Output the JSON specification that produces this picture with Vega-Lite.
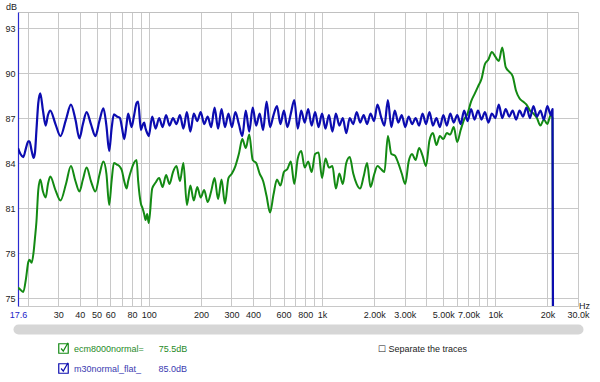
{
  "$schema": "https://vega.github.io/schema/vega-lite/v6.json",
  "width": 560,
  "height": 294,
  "autosize": {"type": "none"},
  "padding": {"left": 18, "top": 12, "right": 22, "bottom": 76},
  "background": "white",
  "config": {"font": "Liberation Sans", "view": {"stroke": null}},
  "title": {"text": "☐ Separate the traces", "orient": "bottom", "anchor": "start", "frame": "group", "offset": 10, "dx": 360, "dy": -41, "fontSize": 9, "fontWeight": "normal", "font": "Liberation Sans", "color": "#222222", "baseline": "top"},
  "data": {"values": [
    {"hz":17.6,"ecm":75.7,"m30":85.0},
    {"hz":18.19,"ecm":75.55,"m30":84.6},
    {"hz":18.88,"ecm":75.4,"m30":84.4},
    {"hz":19.57,"ecm":76.3,"m30":85.0},
    {"hz":20.18,"ecm":77.4,"m30":85.45},
    {"hz":20.5,"ecm":77.55,"m30":85.45},
    {"hz":21.11,"ecm":77.35,"m30":84.8},
    {"hz":21.67,"ecm":78.1,"m30":84.35},
    {"hz":22.05,"ecm":79.0,"m30":84.7},
    {"hz":22.49,"ecm":80.1,"m30":86.2},
    {"hz":23.04,"ecm":82.2,"m30":88.0},
    {"hz":23.66,"ecm":82.9,"m30":88.65},
    {"hz":24.52,"ecm":82.1,"m30":87.5},
    {"hz":25.42,"ecm":81.7,"m30":86.5},
    {"hz":26.21,"ecm":82.6,"m30":87.2},
    {"hz":27.02,"ecm":83.1,"m30":87.5},
    {"hz":28.95,"ecm":82.2,"m30":86.6},
    {"hz":30.94,"ecm":81.5,"m30":85.8},
    {"hz":33.29,"ecm":82.6,"m30":86.9},
    {"hz":35.56,"ecm":83.8,"m30":87.9},
    {"hz":37.75,"ecm":82.8,"m30":86.9},
    {"hz":39.81,"ecm":82.1,"m30":85.65},
    {"hz":41.7,"ecm":82.9,"m30":86.6},
    {"hz":43.8,"ecm":83.7,"m30":87.4},
    {"hz":46.38,"ecm":82.8,"m30":86.6},
    {"hz":49.23,"ecm":82.1,"m30":85.8},
    {"hz":51.91,"ecm":83.2,"m30":86.8},
    {"hz":54.74,"ecm":84.1,"m30":87.65},
    {"hz":56.97,"ecm":83.3,"m30":86.5},
    {"hz":59.12,"ecm":81.2,"m30":84.8},
    {"hz":61.04,"ecm":82.8,"m30":86.3},
    {"hz":62.93,"ecm":84.0,"m30":87.25},
    {"hz":65.49,"ecm":83.9,"m30":87.1},
    {"hz":68.15,"ecm":83.75,"m30":87.0},
    {"hz":69.98,"ecm":83.5,"m30":86.4},
    {"hz":72.16,"ecm":82.8,"m30":85.6},
    {"hz":74.5,"ecm":82.3,"m30":86.6},
    {"hz":76.1,"ecm":82.8,"m30":87.3},
    {"hz":79.61,"ecm":83.6,"m30":86.4},
    {"hz":82.08,"ecm":84.0,"m30":87.1},
    {"hz":85.07,"ecm":84.2,"m30":88.0},
    {"hz":86.89,"ecm":82.8,"m30":88.1},
    {"hz":90.06,"ecm":81.3,"m30":86.2},
    {"hz":92.0,"ecm":81.0,"m30":86.5},
    {"hz":94.09,"ecm":80.6,"m30":86.7},
    {"hz":95.86,"ecm":80.2,"m30":86.3},
    {"hz":97.92,"ecm":80.6,"m30":86.0},
    {"hz":100,"ecm":80.0,"m30":85.8},
    {"hz":104.7,"ecm":82.3,"m30":87.1},
    {"hz":109.6,"ecm":82.7,"m30":86.3},
    {"hz":114.8,"ecm":83.0,"m30":87.0},
    {"hz":120.2,"ecm":82.4,"m30":86.4},
    {"hz":125.9,"ecm":83.2,"m30":87.2},
    {"hz":131.8,"ecm":82.6,"m30":86.5},
    {"hz":138.0,"ecm":83.4,"m30":87.0},
    {"hz":144.5,"ecm":83.8,"m30":86.6},
    {"hz":151.4,"ecm":82.8,"m30":87.2},
    {"hz":158.5,"ecm":84.0,"m30":86.3},
    {"hz":166.0,"ecm":81.2,"m30":87.4},
    {"hz":173.8,"ecm":82.5,"m30":86.1},
    {"hz":182.0,"ecm":81.5,"m30":87.3},
    {"hz":190.5,"ecm":82.4,"m30":86.8},
    {"hz":199.5,"ecm":81.7,"m30":87.4},
    {"hz":208.9,"ecm":82.2,"m30":86.6},
    {"hz":218.8,"ecm":81.4,"m30":87.1},
    {"hz":229.1,"ecm":82.1,"m30":86.4},
    {"hz":239.9,"ecm":83.0,"m30":87.7},
    {"hz":251.2,"ecm":81.6,"m30":86.3},
    {"hz":263.0,"ecm":82.9,"m30":87.6},
    {"hz":275.4,"ecm":81.3,"m30":86.4},
    {"hz":288.4,"ecm":83.0,"m30":87.3},
    {"hz":302.0,"ecm":83.3,"m30":86.4},
    {"hz":316.2,"ecm":83.8,"m30":87.4},
    {"hz":331.1,"ecm":84.6,"m30":86.6},
    {"hz":346.7,"ecm":85.6,"m30":85.8},
    {"hz":363.1,"ecm":85.0,"m30":87.5},
    {"hz":380.2,"ecm":85.9,"m30":86.1},
    {"hz":398.1,"ecm":84.2,"m30":87.7},
    {"hz":416.9,"ecm":84.0,"m30":86.5},
    {"hz":436.5,"ecm":83.3,"m30":87.3},
    {"hz":457.1,"ecm":82.8,"m30":86.2},
    {"hz":478.6,"ecm":81.8,"m30":88.1},
    {"hz":501.2,"ecm":80.7,"m30":86.4},
    {"hz":524.8,"ecm":81.9,"m30":87.2},
    {"hz":549.5,"ecm":82.9,"m30":87.8},
    {"hz":575.4,"ecm":82.5,"m30":86.6},
    {"hz":602.6,"ecm":83.4,"m30":87.5},
    {"hz":631.0,"ecm":83.6,"m30":86.4},
    {"hz":660.7,"ecm":84.1,"m30":87.3},
    {"hz":691.8,"ecm":82.6,"m30":88.2},
    {"hz":724.4,"ecm":84.3,"m30":86.3},
    {"hz":758.6,"ecm":84.8,"m30":87.5},
    {"hz":794.3,"ecm":83.7,"m30":86.7},
    {"hz":831.8,"ecm":84.1,"m30":87.6},
    {"hz":871.0,"ecm":83.4,"m30":86.5},
    {"hz":912.0,"ecm":84.6,"m30":87.4},
    {"hz":955.0,"ecm":84.7,"m30":86.4},
    {"hz":1000,"ecm":83.0,"m30":87.3},
    {"hz":1047,"ecm":84.3,"m30":86.3},
    {"hz":1096,"ecm":83.7,"m30":87.2},
    {"hz":1148,"ecm":83.8,"m30":86.1},
    {"hz":1202,"ecm":82.3,"m30":87.3},
    {"hz":1259,"ecm":83.3,"m30":86.5},
    {"hz":1318,"ecm":82.6,"m30":87.0},
    {"hz":1380,"ecm":84.0,"m30":86.0},
    {"hz":1445,"ecm":84.4,"m30":87.0},
    {"hz":1514,"ecm":83.3,"m30":86.6},
    {"hz":1585,"ecm":82.6,"m30":87.4},
    {"hz":1660,"ecm":82.3,"m30":86.7},
    {"hz":1738,"ecm":83.1,"m30":87.2},
    {"hz":1820,"ecm":84.0,"m30":86.6},
    {"hz":1905,"ecm":82.4,"m30":87.3},
    {"hz":1995,"ecm":83.2,"m30":86.8},
    {"hz":2089,"ecm":83.8,"m30":87.9},
    {"hz":2188,"ecm":83.6,"m30":87.1},
    {"hz":2291,"ecm":83.4,"m30":86.5},
    {"hz":2399,"ecm":85.8,"m30":88.2},
    {"hz":2512,"ecm":84.6,"m30":86.4},
    {"hz":2630,"ecm":84.5,"m30":87.5},
    {"hz":2754,"ecm":84.0,"m30":86.7},
    {"hz":2884,"ecm":83.3,"m30":87.2},
    {"hz":3020,"ecm":82.6,"m30":86.4},
    {"hz":3162,"ecm":84.1,"m30":87.1},
    {"hz":3311,"ecm":84.6,"m30":86.6},
    {"hz":3467,"ecm":84.2,"m30":87.0},
    {"hz":3631,"ecm":85.0,"m30":86.5},
    {"hz":3802,"ecm":84.5,"m30":87.3},
    {"hz":3981,"ecm":83.8,"m30":86.6},
    {"hz":4169,"ecm":85.5,"m30":87.4},
    {"hz":4365,"ecm":86.0,"m30":86.5},
    {"hz":4571,"ecm":85.2,"m30":87.0},
    {"hz":4786,"ecm":85.8,"m30":86.4},
    {"hz":5012,"ecm":85.6,"m30":87.2},
    {"hz":5248,"ecm":86.0,"m30":86.5},
    {"hz":5495,"ecm":85.9,"m30":87.3},
    {"hz":5754,"ecm":86.4,"m30":86.7},
    {"hz":6026,"ecm":85.4,"m30":87.2},
    {"hz":6310,"ecm":86.2,"m30":86.6},
    {"hz":6607,"ecm":86.9,"m30":87.5},
    {"hz":6918,"ecm":87.3,"m30":86.8},
    {"hz":7244,"ecm":88.1,"m30":87.6},
    {"hz":7586,"ecm":88.6,"m30":86.9},
    {"hz":7943,"ecm":89.1,"m30":87.5},
    {"hz":8318,"ecm":89.6,"m30":86.9},
    {"hz":8710,"ecm":90.6,"m30":87.4},
    {"hz":9120,"ecm":90.9,"m30":86.7},
    {"hz":9550,"ecm":91.4,"m30":87.3},
    {"hz":10000,"ecm":91.1,"m30":87.0},
    {"hz":10471,"ecm":90.8,"m30":87.9},
    {"hz":10965,"ecm":91.7,"m30":87.0},
    {"hz":11482,"ecm":90.4,"m30":87.6},
    {"hz":12023,"ecm":90.1,"m30":87.1},
    {"hz":12589,"ecm":89.8,"m30":87.5},
    {"hz":13183,"ecm":88.8,"m30":86.9},
    {"hz":13804,"ecm":88.3,"m30":87.5},
    {"hz":14454,"ecm":88.1,"m30":87.1},
    {"hz":15136,"ecm":87.9,"m30":87.7},
    {"hz":15849,"ecm":87.5,"m30":87.0},
    {"hz":16596,"ecm":87.3,"m30":87.8},
    {"hz":17378,"ecm":87.0,"m30":87.1},
    {"hz":18197,"ecm":86.5,"m30":87.5},
    {"hz":19055,"ecm":86.9,"m30":86.9},
    {"hz":19953,"ecm":86.6,"m30":87.8},
    {"hz":20893,"ecm":87.2,"m30":87.2},
    {"hz":21380,"ecm":87.0,"m30":87.6},
    {"hz":21650,"ecm":60,"m30":60}
  ]},
  "transform": [{"fold": ["ecm", "m30"], "as": ["trace", "db"]}],
  "encoding": {
    "y": {
      "field": "db", "type": "quantitative",
      "scale": {"domain": [74.47, 94.07], "nice": false, "zero": false},
      "axis": {
        "values": [75,78,81,84,87,90,93],
        "format": "d",
        "labelOverlap": false,
        "labelBound": false,
        "grid": true,
        "gridColor": "#c8c8c8",
        "domain": true,
        "domainColor": "#2a2ad0",
        "domainWidth": 1.2,
        "ticks": false,
        "labelPadding": 3,
        "labelFontSize": 9,
        "labelColor": "#222222",
        "title": "dB",
        "titleAngle": 0,
        "titleX": -7,
        "titleY": -3,
        "titleAlign": "center",
        "titleBaseline": "alphabetic",
        "titleFontSize": 9,
        "titleFontWeight": "normal",
        "titleColor": "#222222"
      }
    }
  },
  "layer": [
    {
      "transform": [{"filter": "datum.trace == 'ecm'"}],
      "mark": {"type": "line", "strokeWidth": 2, "clip": true, "interpolate": "monotone", "strokeJoin": "round"},
      "encoding": {
        "x": {
          "field": "hz", "type": "quantitative",
          "scale": {"type": "log", "domain": [17.6, 30000], "nice": false},
          "axis": {
            "values": [17.6,20,30,40,50,60,70,80,90,100,200,300,400,500,600,700,800,900,1000,2000,3000,4000,5000,6000,7000,8000,9000,10000,20000,30000],
            "labelExpr": "datum.value < 18 ? '17.6' : datum.value == 1000 ? '1k' : datum.value == 10000 ? '10k' : datum.value == 20000 ? '20k' : datum.value == 30000 ? '30.0k' : indexof([2000,3000,5000,7000], datum.value) >= 0 ? format(datum.value / 1000, '.2f') + 'k' : indexof([30,40,50,60,80,100,200,300,400,600,800], datum.value) >= 0 ? format(datum.value, 'd') : ''",
            "labelOverlap": false,
            "labelFlush": false,
            "grid": true,
            "gridColor": {"condition": {"test": "datum.value < 18", "value": "transparent"}, "value": "#c8c8c8"},
            "domain": true,
            "domainColor": "#c8c8c8",
            "ticks": false,
            "labelPadding": 4,
            "labelFontSize": 9,
            "labelColor": {"condition": {"test": "datum.value < 18", "value": "#2424c8"}, "value": "#222222"},
            "title": "Hz",
            "titleX": 560.5,
            "titleY": 2.5,
            "titleAlign": "left",
            "titleBaseline": "alphabetic",
            "titleFontSize": 9,
            "titleFontWeight": "normal",
            "titleColor": "#222222"
          }
        },
        "color": {
          "field": "trace", "type": "nominal",
          "scale": {"domain": ["ecm"], "range": ["#138a13"]},
          "legend": {
            "orient": "none",
            "legendX": 40,
            "legendY": 331,
            "title": null,
            "padding": 0,
            "symbolType": "M-1,-1H1V1H-1Z M-0.5,0L-0.05,0.55L0.95,-1.2",
            "symbolSize": 90,
            "symbolStrokeWidth": 1.2,
            "symbolFillColor": "transparent",
            "labelFontSize": 9,
            "labelFont": "Liberation Sans",
            "labelColor": "#1f8a1f",
            "labelOffset": 5,
            "labelLimit": 300,
            "labelExpr": "'ecm8000normal=\u00a0\u00a0\u00a0\u00a0\u00a0\u00a075.5dB'"
          }
        }
      }
    },
    {
      "transform": [{"filter": "datum.trace == 'm30'"}],
      "mark": {"type": "line", "strokeWidth": 2.2, "clip": true, "interpolate": "monotone", "strokeJoin": "round"},
      "encoding": {
        "x": {"field": "hz", "type": "quantitative", "scale": {"type": "log", "domain": [17.6, 30000], "nice": false},
              "axis": {"orient": "top", "domain": true, "domainColor": "#c0c0c0", "labels": false, "ticks": false, "grid": false, "title": null}},
        "stroke": {
          "field": "trace", "type": "nominal",
          "scale": {"domain": ["m30"], "range": ["#0c0cb0"]},
          "legend": {
            "orient": "none",
            "legendX": 40,
            "legendY": 351,
            "title": null,
            "padding": 0,
            "symbolType": "M-1,-1H1V1H-1Z M-0.5,0L-0.05,0.55L0.95,-1.2",
            "symbolSize": 90,
            "symbolStrokeWidth": 1.2,
            "symbolFillColor": "transparent",
            "labelFontSize": 9,
            "labelFont": "Liberation Sans",
            "labelColor": "#3a3ab0",
            "labelOffset": 5,
            "labelLimit": 300,
            "labelExpr": "'m30normal_flat_\u00a0\u00a0\u00a0\u00a0\u00a0\u00a0\u00a085.0dB'"
          }
        }
      }
    },
    {
      "transform": [{"filter": "false"}],
      "mark": "point",
      "encoding": {
        "x": {
          "field": "hz", "type": "quantitative",
          "scale": {"type": "log", "domain": [17.6, 30000], "nice": false},
          "axis": {"orient": "bottom", "offset": 23, "domain": true, "domainColor": "#d6d6d6", "domainWidth": 10, "domainCap": "round", "labels": false, "ticks": false, "grid": false, "title": null}
        }
      }
    }
  ],
  "resolve": {"axis": {"x": "independent"}}
}
